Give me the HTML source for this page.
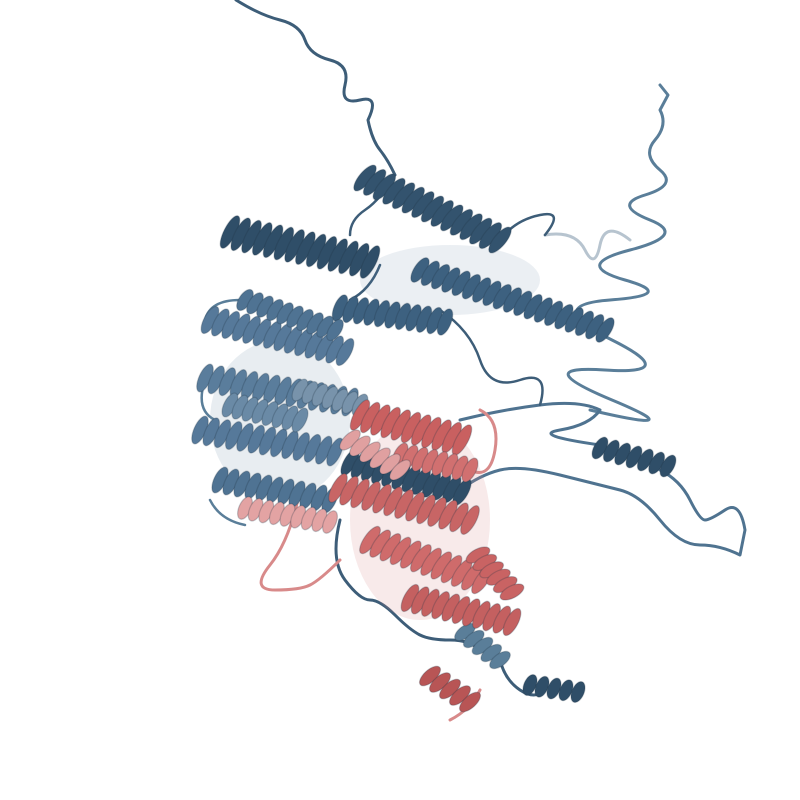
<!DOCTYPE html>
<html><head><meta charset="utf-8"><title>Protein structure</title>
<style>html,body{margin:0;padding:0;background:#fff;width:800px;height:800px;overflow:hidden}</style>
</head><body>
<svg id="mol" width="800" height="800" viewBox="0 0 800 800" xmlns="http://www.w3.org/2000/svg">
<g id="loops" fill="none" stroke-linecap="round" stroke-linejoin="round">
<path stroke="#3d5d78" stroke-width="3" d="M236 0 Q260 15 280 20 T305 40 T330 60 T345 85 T360 100 T368 120 Q372 140 380 150 T395 175"/>
<path stroke="#5a7e99" stroke-width="3" d="M660 85 L668 95 L660 110 Q668 125 655 140 T660 170 T645 195 T650 220 T630 250 T625 280 T610 300 T612 340 T605 370 T612 400 T590 410"/>
<path stroke="#b7c4cf" stroke-width="3" d="M545 235 Q575 230 585 250 T600 245 T630 240"/>
<path stroke="#4f7390" stroke-width="3" d="M460 420 Q500 410 540 405 T600 410 Q590 425 560 430 T600 445 M660 470 Q680 480 690 500 T705 520 T725 510 T745 530 L740 555 Q720 545 700 545 T660 520 T620 490 T560 475 T500 470 T460 490"/>
<path stroke="#3d5d78" stroke-width="3" d="M340 520 Q330 560 345 580 T370 600 T395 615 T420 635 T450 640 T480 650 M500 660 Q505 680 520 690 T545 690"/>
<path stroke="#d88a8a" stroke-width="3" d="M300 490 Q290 540 270 565 T275 590 T310 585 T340 560 M450 720 Q470 710 480 690 M480 410 Q500 420 495 450 T470 470"/>
<path stroke="#5a7e99" stroke-width="2.5" d="M205 380 Q195 410 215 420 M210 500 Q220 520 245 525 M240 300 Q210 300 205 320"/>
<path stroke="#3d5d78" stroke-width="2.5" d="M395 175 Q380 200 365 210 T350 235 M500 240 Q515 220 540 215 T545 235 M440 310 Q470 330 480 360 T520 380 T540 405 M380 265 Q370 290 350 300"/>
</g>
<g id="helices"></g>
</svg>
<script>
const helixStarts = [
 [230,232,370,262,36,'#2f4e68'],[365,178,500,240,32,'#33536e'],[420,270,605,330,28,'#3d6180'],
 [340,308,445,322,28,'#3d6180'],[210,320,345,352,30,'#56799a'],[205,378,350,402,30,'#5a7d9c'],
 [200,430,335,452,30,'#56799a'],[220,480,330,500,28,'#4f7393'],[350,462,462,492,30,'#2f4e68'],
 [600,448,668,466,24,'#2f4e68'],[530,685,578,692,22,'#2f4e68'],[465,632,500,660,24,'#5a7e99'],
 [300,390,360,405,24,'#7893ab'],[245,300,335,330,24,'#4f7393'],[230,405,300,420,26,'#6a8aa6']
];
const redHelices = [
 [360,415,462,440,34,'#c96060'],[338,488,470,520,32,'#c86565'],[370,540,482,580,32,'#cf6b6b'],
 [410,598,512,622,30,'#c46060'],[430,676,470,702,26,'#b85555'],[478,555,512,592,26,'#c96363'],
 [245,508,330,522,24,'#e3a3a3'],[400,455,470,470,26,'#d17070'],[350,440,400,470,26,'#e0a0a0']
];
const g = document.getElementById('helices');
const NS = 'http://www.w3.org/2000/svg';
function drawHelix(h, i, kind){
  const [x1,y1,x2,y2,w,c] = h;
  const grp = document.createElementNS(NS,'g');
  
  
  const dx=x2-x1, dy=y2-y1, len=Math.hypot(dx,dy), ang=Math.atan2(dy,dx)*180/Math.PI;
  const turns = Math.max(3, Math.round(len/11));
  for(let k=0;k<=turns;k++){
    const t=k/turns, cx=x1+dx*t, cy=y1+dy*t;
    const e=document.createElementNS(NS,'ellipse');
    e.setAttribute('cx',cx); e.setAttribute('cy',cy);
    e.setAttribute('rx',6); e.setAttribute('ry',w/2);
    e.setAttribute('transform','rotate('+(ang+15)+' '+cx+' '+cy+')');
    e.setAttribute('fill',c); e.setAttribute('stroke','#1e3345'); e.setAttribute('stroke-opacity','0.25'); e.setAttribute('stroke-width','1.2');
    grp.appendChild(e);
  }
  g.appendChild(grp);
}
const bg=document.createElementNS(NS,'g');


[[280,420,70,80,'#7f9bb3',0.18],[420,520,70,100,'#d98a8a',0.18],[450,280,90,35,'#5a7e99',0.12]].forEach(b=>{
  const e=document.createElementNS(NS,'ellipse');
  e.setAttribute('cx',b[0]);e.setAttribute('cy',b[1]);e.setAttribute('rx',b[2]);e.setAttribute('ry',b[3]);
  e.setAttribute('fill',b[4]);e.setAttribute('opacity',b[5]);bg.appendChild(e);
});
g.appendChild(bg);
helixStarts.forEach((h,i)=>drawHelix(h,i,'blue'));
redHelices.forEach((h,i)=>drawHelix(h,i,'red'));
</script>
</body></html>
